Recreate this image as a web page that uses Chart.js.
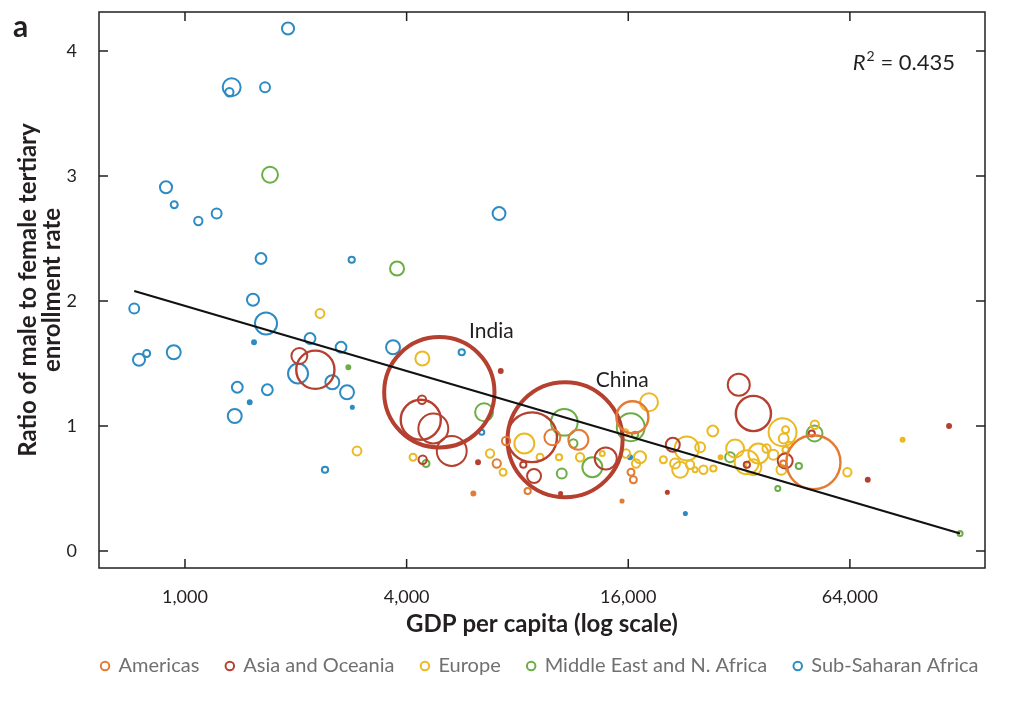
<!DOCTYPE html>
<html><head><meta charset="utf-8">
<script src="https://cdn.jsdelivr.net/npm/chart.js@4.4.1/dist/chart.umd.min.js"></script>
<style>html,body{margin:0;padding:0;background:#fff}</style>
</head><body>
<canvas id="c" width="1033" height="701"></canvas>
<script>
// ---- data (GDP per capita, ratio male/female tertiary enrollment, population in millions) ----
const ssaGdp   = [1905,1339,1320,1650,888,935,1087,1219,7130,1609,2837,1530,1660,728,1540,2186,2654,3674,5646,750,787,932,1387,1674,1499,1365,2028,2513,2755,2848,2401,6400,16180,22870];
const ssaRatio = [4.18,3.71,3.67,3.71,2.91,2.77,2.64,2.70,2.70,2.34,2.33,2.01,1.82,1.94,1.67,1.70,1.63,1.63,1.59,1.53,1.58,1.59,1.31,1.29,1.19,1.08,1.42,1.35,1.27,1.15,0.65,0.95,0.75,0.30];
const ssaPop   = [15,33,7,10,15,5,7,10,17,12,4,15,50,10,1.6,12,12,20,4,15,5,20,12,12,1.6,20,41,20,20,1,4,2.6,1.6,1];

const menaGdp   = [1702,3767,2778,6493,4516,10727,11350,10556,12780,16250,16700,30250,46500,40770,51300,127500];
const menaRatio = [3.01,2.26,1.47,1.11,0.70,1.03,0.86,0.62,0.67,0.99,0.93,0.75,0.68,0.50,0.94,0.14];
const menaPop   = [26,20,1.6,33,5,73,7,10,41,80,4,10,4,2.6,26,2.6];

const asiaGdp   = [4908,7206,2045,2260,4404,4370,4727,5304,4423,6252,10776,8766,8300,8875,13900,10480,20430,21140,31940,35000,33600,42700,50400,71570,119000];
const asiaRatio = [1.27,1.44,1.56,1.45,1.21,1.05,0.98,0.80,0.73,0.71,0.89,0.91,0.69,0.60,0.74,0.46,0.47,0.85,1.33,1.10,0.69,0.72,0.94,0.57,1.00];
const asiaPop   = [1250,1.6,26,150,7,165,92,92,7,1.6,1360,255,4,20,50,1,1,20,50,127,4,23,4,1.6,1.6];

const amerGdp   = [7449,7028,6072,9952,11710,8530,15390,16420,16280,16520,50950,42200];
const amerRatio = [0.88,0.70,0.46,0.91,0.89,0.48,0.40,1.07,0.63,0.57,0.71,0.70];
const amerPop   = [7,7,1.6,26,41,4,1,105,5,5,300,4];

const euGdp   = [2327,4413,2933,4164,6740,7311,8352,9215,10376,11834,13600,15680,17220,16800,18220,15770,23070,25080,22130,21440,19930,23550,25600,27250,24300,27150,28500,31210,33570,36110,38000,39670,42000,42800,42300,43800,41700,42800,51400,63000,89000,35000];
const euRatio = [1.90,1.54,0.80,0.75,0.78,0.63,0.86,0.75,0.75,0.75,0.78,0.95,0.75,0.70,1.19,0.78,0.82,0.83,0.65,0.70,0.73,0.69,0.65,0.66,0.65,0.96,0.75,0.82,0.71,0.78,0.82,0.77,0.95,0.97,0.90,0.85,0.65,0.81,1.01,0.63,0.89,0.67];
const euPop   = [8,20,8,5,7,5,41,5,4,7,2.6,4,15,7,33,7,60,10,26,10,5,7,7,4,2.6,12,1.6,33,60,41,7,10,80,5,10,4,10,4,7,7,1.6,26];

const trendGdp   = [728, 127500];
const trendRatio = [2.08, 0.14];

const regionNames = ['Americas','Asia and Oceania','Europe','Middle East and N. Africa','Sub-Saharan Africa'];
const xTicks = [1000, 4000, 16000, 64000];
const yTicks = [0, 1, 2, 3, 4];
const labelNotes = [{text:'India', gdp:6800, ratio:1.76},{text:'China', gdp:15400, ratio:1.37}];
const r2Text = '0.435';

// ---- styling ----
const colors = {americas:'#E37B35', asia:'#B5402F', europe:'#EAB923', mena:'#6BAE45', ssa:'#2D8BC3'};
const FONT = 'Lato';
const radiusOf = pop => 1.56 * Math.sqrt(pop);
const pts = (g, r, p) => g.map((v, i) => ({x: v, y: r[i], r: radiusOf(p[i])}));

function bubbleSet(label, color, g, r, p){
  return {
    type:'bubble', label, data: pts(g, r, p),
    borderColor: color,
    backgroundColor: c => (c.raw && c.raw.r < 2.3) ? color : 'rgba(0,0,0,0)',
    borderWidth: c => { const rr = c.raw ? c.raw.r : 3; return rr > 40 ? 4 : (rr > 15 ? 2.4 : 2); },
    clip: false
  };
}

const framePlugin = {
  id:'frame',
  afterDraw(chart){
    const {ctx, chartArea:a, scales:{x, y}} = chart;
    ctx.save();
    ctx.strokeStyle = '#231f20'; ctx.lineWidth = 1.5;
    ctx.strokeRect(a.left, a.top, a.right - a.left, a.bottom - a.top);
    const T = 9;
    ctx.beginPath();
    xTicks.forEach(v => { const px = x.getPixelForValue(v); ctx.moveTo(px, a.bottom); ctx.lineTo(px, a.bottom - T); ctx.moveTo(px, a.top); ctx.lineTo(px, a.top + T); });
    yTicks.forEach(v => { const py = y.getPixelForValue(v); ctx.moveTo(a.left, py); ctx.lineTo(a.left + T, py); ctx.moveTo(a.right, py); ctx.lineTo(a.right - T, py); });
    ctx.stroke();
    ctx.fillStyle = '#231f20';
    // panel letter
    ctx.font = 'bold 30px ' + FONT; ctx.textAlign = 'left'; ctx.textBaseline = 'alphabetic';
    ctx.fillText('a', 13, 37);
    // annotations
    ctx.font = '21px ' + FONT; ctx.textAlign = 'center'; ctx.textBaseline = 'middle';
    labelNotes.forEach(n => ctx.fillText(n.text, x.getPixelForValue(n.gdp), y.getPixelForValue(n.ratio)));
    // R^2
    const base = a.top + 58, rightEdge = a.right - 30;
    ctx.textBaseline = 'alphabetic'; ctx.textAlign = 'left';
    ctx.font = 'italic 22px ' + FONT; const wR = ctx.measureText('R').width;
    ctx.font = '14px ' + FONT; const w2 = ctx.measureText('2').width;
    ctx.font = '22px ' + FONT; const wE = ctx.measureText(' = ' + r2Text).width;
    let cx = rightEdge - (wR + w2 + 1 + wE);
    ctx.font = 'italic 22px ' + FONT; ctx.fillText('R', cx, base); cx += wR + 1;
    ctx.font = '14px ' + FONT; ctx.fillText('2', cx, base - 9); cx += w2;
    ctx.font = '22px ' + FONT; ctx.fillText(' = ' + r2Text, cx, base);
    ctx.restore();
  }
};

new Chart(document.getElementById('c'), {
  data: {
    datasets: [
      bubbleSet(regionNames[0], colors.americas, amerGdp, amerRatio, amerPop),
      bubbleSet(regionNames[1], colors.asia, asiaGdp, asiaRatio, asiaPop),
      bubbleSet(regionNames[2], colors.europe, euGdp, euRatio, euPop),
      bubbleSet(regionNames[3], colors.mena, menaGdp, menaRatio, menaPop),
      bubbleSet(regionNames[4], colors.ssa, ssaGdp, ssaRatio, ssaPop),
      { type:'line', label:'trend', data: trendGdp.map((g, i) => ({x: g, y: trendRatio[i]})),
        borderColor:'#111', borderWidth:2.2, pointRadius:0, fill:false, order:-1 }
    ]
  },
  options: {
    responsive:false, animation:false, events:[],
    layout:{autoPadding:false, padding:{left:47, right:0, top:12, bottom:15}},
    scales:{
      x:{
        type:'logarithmic', position:'bottom', min:584, max:149000,
        afterBuildTicks: s => { s.ticks = xTicks.map(v => ({value:v})); },
        afterFit: s => { s.height = 61; s.paddingLeft = 0; s.paddingRight = 0; },
        grid:{display:false}, border:{display:false},
        ticks:{padding:10, color:'#231f20', font:{family:FONT, size:18}, callback: v => Number(v).toLocaleString('en-US'), maxRotation:0, autoSkip:false},
        title:{display:true, text:'GDP per capita (log scale)', color:'#231f20', font:{family:FONT, size:24, weight:'bold', lineHeight:1}, padding:{top:0, bottom:-7}}
      },
      y:{
        type:'linear', position:'left', min:-0.136, max:4.312,
        afterBuildTicks: s => { s.ticks = yTicks.map(v => ({value:v})); },
        afterFit: s => { s.width = 52; s.paddingTop = 0; s.paddingBottom = 0; },
        grid:{display:false}, border:{display:false},
        ticks:{padding:14, color:'#231f20', font:{family:FONT, size:18}},
        title:{display:true, text:['Ratio of male to female tertiary','enrollment rate'], color:'#231f20', font:{family:FONT, size:24, weight:'bold', lineHeight:1}, padding:{top:-31, bottom:0}}
      },
      yRight:{
        type:'linear', position:'right', display:true,
        afterFit: s => { s.width = 48; s.paddingTop = 0; s.paddingBottom = 0; },
        grid:{display:false}, border:{display:false}, ticks:{display:false}
      }
    },
    plugins:{
      legend:{
        position:'bottom',
        labels:{
          usePointStyle:true, pointStyle:'circle', boxWidth:7, boxHeight:6, padding:27,
          color:'#707072', font:{family:FONT, size:20},
          filter: it => it.text !== 'trend',
          generateLabels: chart => Chart.defaults.plugins.legend.labels.generateLabels(chart).map(it => Object.assign(it, {fillStyle:'rgba(0,0,0,0)', lineWidth:2, pointStyle:'circle'}))
        }
      },
      tooltip:{enabled:false}
    }
  },
  plugins:[framePlugin]
});
</script>
</body></html>
